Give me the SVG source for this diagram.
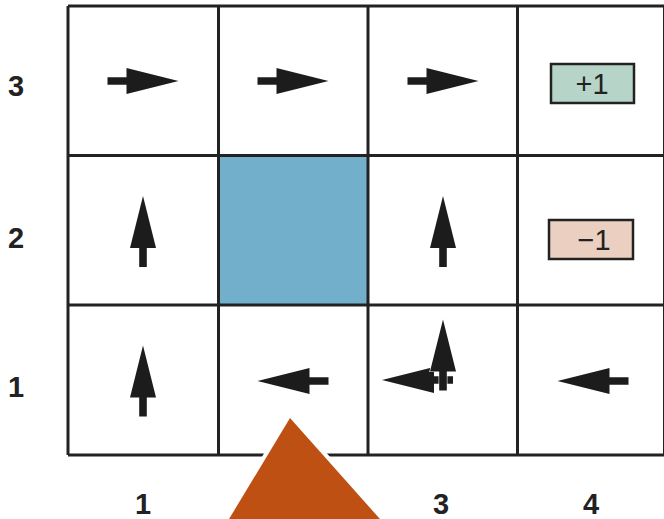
<svg xmlns="http://www.w3.org/2000/svg" xmlns:xlink="http://www.w3.org/1999/xlink" width="664" height="519" viewBox="0 0 664 519">
<style>
.grid{stroke:#222;stroke-width:3;fill:none}
.lbl{font-family:"Liberation Sans",Arial,sans-serif;font-weight:bold;font-size:29px;fill:#222;text-anchor:middle}
.rw{font-family:"Liberation Sans",Arial,sans-serif;font-size:29px;fill:#222;text-anchor:middle}
.arr{fill:#1c1c1c;stroke:#fff;stroke-width:1.2;paint-order:stroke}
</style>
<defs>
<path id="ar" d="M-35.5,-3.8 H-16.5 V-13 L35.5,0 L-16.5,13 V3.8 H-35.5 Z"/>
</defs>
<rect width="664" height="519" fill="#fff"/>
<g id="obstacle"><rect x="218" y="155" width="150" height="150" fill="#72afca"/></g>
<g id="gridlines">
<path class="grid" d="M68,6 V455 M218.5,6 V455 M368,6 V455 M517.5,6 V455 M664.5,6 V455 M68,6 H667 M68,155.5 H667 M68,305 H667 M68,455 H667"/>
</g>
<g id="rewards">
<g id="plus1"><rect x="551" y="64" width="83" height="39" fill="#b6d4c7" stroke="#222" stroke-width="2.5"/><text class="rw" x="592" y="94">+1</text></g>
<g id="minus1"><rect x="549" y="220" width="84" height="39" fill="#ebcfc0" stroke="#222" stroke-width="2.5"/><text class="rw" x="594" y="250">−1</text></g>
</g>
<g id="policy">
<use class="arr" xlink:href="#ar" transform="translate(143,81)"/>
<use class="arr" xlink:href="#ar" transform="translate(293,81)"/>
<use class="arr" xlink:href="#ar" transform="translate(443,81)"/>
<use class="arr" xlink:href="#ar" transform="translate(143,231.5) rotate(-90)"/>
<use class="arr" xlink:href="#ar" transform="translate(443,231.5) rotate(-90)"/>
<use class="arr" xlink:href="#ar" transform="translate(143,381) rotate(-90)"/>
<use class="arr" xlink:href="#ar" transform="translate(293,381) rotate(180)"/>
<use class="arr" xlink:href="#ar" transform="translate(417.5,380) rotate(180)"/>
<use class="arr" xlink:href="#ar" transform="translate(443,355) rotate(-90)"/>
<use class="arr" xlink:href="#ar" transform="translate(593,381) rotate(180)"/>
</g>
<g id="labels">
<text class="lbl" x="16" y="96">3</text>
<text class="lbl" x="16" y="248">2</text>
<text class="lbl" x="16" y="397">1</text>
<text class="lbl" x="143" y="514">1</text>
<text class="lbl" x="441" y="514">3</text>
<text class="lbl" x="591" y="514">4</text>
</g>
<g id="occluder"><polygon points="290,418 225.4,525 385.3,525" fill="#bf5014" stroke="#fff" stroke-width="8" paint-order="stroke" stroke-linejoin="miter"/></g>
</svg>
